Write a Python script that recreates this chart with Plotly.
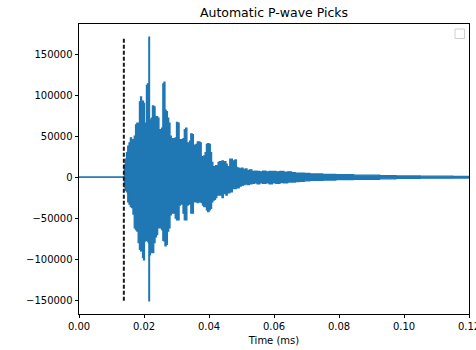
import plotly.graph_objects as go

# Time (ms) of envelope samples
env_t = [0.0000, 0.0138, 0.0141, 0.0144, 0.0148, 0.0152, 0.0156, 0.0160, 0.0164, 0.0168,
         0.0172, 0.0176, 0.0180, 0.0184, 0.0188, 0.0191, 0.0194, 0.0197, 0.0200, 0.0203,
         0.0206, 0.0209, 0.0212, 0.0214, 0.0216, 0.0218, 0.0221, 0.0224, 0.0228, 0.0232,
         0.0236, 0.0240, 0.0244, 0.0248, 0.0252, 0.0256, 0.0260, 0.0263, 0.0266, 0.0270,
         0.0274, 0.0278, 0.0282, 0.0286, 0.0290, 0.0294, 0.0298, 0.0302, 0.0306, 0.0310,
         0.0314, 0.0318, 0.0322, 0.0326, 0.0330, 0.0334, 0.0338, 0.0342, 0.0346, 0.0350,
         0.0354, 0.0358, 0.0362, 0.0366, 0.0370, 0.0374, 0.0378, 0.0382, 0.0386, 0.0390,
         0.0394, 0.0398, 0.0402, 0.0406, 0.0410, 0.0414, 0.0418, 0.0422, 0.0426, 0.0430,
         0.0434, 0.0438, 0.0442, 0.0446, 0.0450, 0.0454, 0.0458, 0.0462, 0.0466, 0.0470,
         0.0474, 0.0478, 0.0482, 0.0486, 0.0490, 0.0496, 0.0502, 0.0508, 0.0514, 0.0520,
         0.0528, 0.0536, 0.0544, 0.0552, 0.0560, 0.0570, 0.0580, 0.0590, 0.0600, 0.0612,
         0.0624, 0.0636, 0.0648, 0.0660, 0.0672, 0.0686, 0.0700, 0.0720, 0.0740, 0.0760,
         0.0780, 0.0800, 0.0830, 0.0860, 0.0900, 0.0950, 0.1000, 0.1100, 0.1200]

# Positive peak amplitude of the waveform
env_hi = [0, 0, 15000, 22000, 30000, 38000, 42000, 48000, 44000, 46000,
          50000, 64000, 66000, 62000, 92000, 98000, 80000, 93000, 90000, 66000,
          64000, 112000, 114000, 70000, 171000, 70000, 65000, 72000, 87000, 86000,
          73000, 74000, 72000, 58000, 56000, 60000, 114000, 116000, 82000, 80000,
          72000, 66000, 50000, 47000, 47000, 46000, 48000, 67000, 66000, 46000,
          46000, 45000, 47000, 58000, 60000, 42000, 41000, 44000, 53000, 52000,
          39000, 38000, 40000, 43000, 43000, 42000, 25000, 24000, 26000, 30000,
          40000, 41000, 40000, 30000, 18000, 13000, 12000, 14000, 13000, 18000,
          19000, 18000, 20000, 17000, 19000, 16000, 12000, 13000, 22000, 22000,
          19000, 20000, 21000, 12000, 11000, 10000, 11000, 9000, 10000, 8000,
          9000, 7000, 7500, 7000, 6500, 7500, 6500, 7000, 7000, 6500,
          7000, 6000, 6500, 5500, 5000, 5000, 4500, 4000, 4000, 3500,
          3500, 3000, 3000, 2500, 2500, 2000, 1500, 1200, 1000]

# Negative peak amplitude of the waveform
env_lo = [0, 0, -12000, -16000, -18000, -30000, -33000, -36000, -37000, -45000,
          -62000, -64000, -66000, -80000, -88000, -90000, -86000, -98000, -101000, -78000,
          -77000, -75000, -78000, -80000, -151000, -95000, -92000, -88000, -92000, -80000,
          -73000, -70000, -61000, -62000, -60000, -64000, -77000, -78000, -84000, -82000,
          -66000, -62000, -46000, -44000, -44000, -44000, -50000, -52000, -52000, -34000,
          -32000, -33000, -44000, -52000, -52000, -34000, -32000, -33000, -44000, -44000,
          -30000, -30000, -29000, -31000, -30000, -30000, -31000, -34000, -36000, -35000,
          -40000, -42000, -40000, -38000, -30000, -28000, -27000, -25000, -22000, -20000,
          -22000, -18000, -25000, -20000, -18000, -22000, -17000, -19000, -16000, -18000,
          -14000, -13000, -14000, -12000, -13000, -11000, -10000, -9000, -8000, -9000,
          -8000, -7500, -7000, -8000, -7000, -7500, -7000, -8000, -7000, -7500,
          -6500, -7000, -6000, -6000, -5500, -5000, -4500, -4000, -4000, -3500,
          -3500, -3000, -3000, -2500, -2500, -2000, -1500, -1200, -1000]

pick_times = [0.0138]

x_ticks = [0.00, 0.02, 0.04, 0.06, 0.08, 0.10, 0.12]
y_ticks = [-150000, -100000, -50000, 0, 50000, 100000, 150000]

blue = "#1f77b4"
fig = go.Figure()
fig.add_trace(go.Scatter(x=env_t, y=env_hi, mode="lines",
                         line=dict(color=blue, width=1.3, shape="hvh"),
                         showlegend=False, hoverinfo="skip"))
fig.add_trace(go.Scatter(x=env_t, y=env_lo, mode="lines", fill="tonexty", fillcolor=blue,
                         line=dict(color=blue, width=1.3, shape="hvh"),
                         showlegend=False, hoverinfo="skip"))
ymin, ymax = min(env_lo), max(env_hi)
for p in pick_times:
    fig.add_trace(go.Scatter(x=[p, p], y=[ymin, ymax], mode="lines",
                             line=dict(color="#1a1a1a", width=2, dash="4px,2px"),
                             showlegend=False, hoverinfo="skip"))

axis_common = dict(showline=True, linecolor="black", linewidth=0.8, mirror=True,
                   ticks="outside", ticklen=3.5, tickwidth=0.8, tickcolor="black",
                   showgrid=False, zeroline=False, ticklabeloverflow="allow",
                   automargin=False,
                   tickfont=dict(family="DejaVu Sans", size=10, color="black"))

fig.update_layout(
    width=476, height=350,
    margin=dict(l=79, r=7, t=24, b=36),
    plot_bgcolor="white", paper_bgcolor="white",
    title=dict(text="Automatic P-wave Picks", x=0.5, xref="paper", xanchor="center",
               y=1 - 12.5 / 350, yanchor="middle",
               font=dict(family="DejaVu Sans", size=12.5, color="black")),
    xaxis=dict(range=[0, 0.12], tickvals=x_ticks,
               ticktext=[f"{v:.2f}" for v in x_ticks],
               title=dict(text="Time (ms)", standoff=5,
                          font=dict(family="DejaVu Sans", size=10, color="black")),
               **axis_common),
    yaxis=dict(range=[-167100, 187100], tickvals=y_ticks,
               ticktext=[str(v).replace("-", "\u2212") for v in y_ticks],
               **axis_common),
    shapes=[dict(type="rect", xref="paper", yref="paper",
                 x0=(455 - 79) / 390, x1=(464.5 - 79) / 390,
                 y0=1 - (38.5 - 24) / 290, y1=1 - (29 - 24) / 290,
                 line=dict(color="#d0d0d0", width=1), fillcolor="rgba(255,255,255,0.8)")],
)

fig.write_html("out.html")
